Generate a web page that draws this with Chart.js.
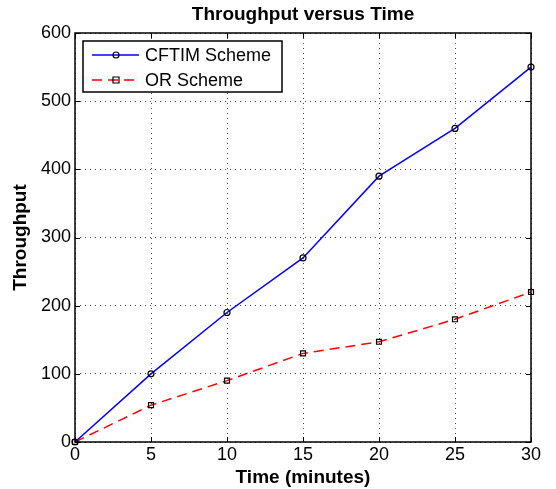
<!DOCTYPE html>
<html>
<head>
<meta charset="utf-8">
<script src="https://cdn.jsdelivr.net/npm/chart.js@4.4.1/dist/chart.umd.min.js"></script>
<style>
  html, body { margin: 0; padding: 0; background: #fff; }
  #wrap { width: 556px; height: 489px; }
</style>
</head>
<body>
<div id="wrap"><canvas id="tpChart" width="556" height="489"></canvas></div>
<script>
// Throughput versus Time — two schemes
const times   = [0, 5, 10, 15, 20, 25, 30];
const cftim   = [0, 100, 190, 270, 390, 460, 550];
const orVals  = [0, 54, 90, 130, 147, 180, 220];
const xTicks  = [0, 5, 10, 15, 20, 25, 30];
const yTicks  = [0, 100, 200, 300, 400, 500, 600];
const chartTitle = 'Throughput versus Time';

const font = 'Helvetica, "Liberation Sans", Arial, sans-serif';

function toXY(xs, ys) {
  return xs.map((x, i) => ({ x: x, y: ys[i] }));
}

// box round the plot plus inward tick marks (matlab style)
const boxPlugin = {
  id: 'box',
  afterDraw(chart) {
    const { ctx, chartArea: a, scales } = chart;
    ctx.save();
    ctx.strokeStyle = '#000';
    ctx.lineWidth = 1.5;
    ctx.setLineDash([]);
    ctx.strokeRect(a.left, a.top, a.right - a.left, a.bottom - a.top);
    const len = 5;
    ctx.lineWidth = 1;
    ctx.beginPath();
    xTicks.forEach(v => {
      const px = Math.round(scales.x.getPixelForValue(v)) + 0.5;
      ctx.moveTo(px, a.bottom); ctx.lineTo(px, a.bottom - len);
      ctx.moveTo(px, a.top); ctx.lineTo(px, a.top + len);
    });
    yTicks.forEach(v => {
      const py = Math.round(scales.y.getPixelForValue(v)) + 0.5;
      ctx.moveTo(a.left, py); ctx.lineTo(a.left + len, py);
      ctx.moveTo(a.right, py); ctx.lineTo(a.right - len, py);
    });
    ctx.stroke();
    // title centred over the axes
    ctx.fillStyle = '#000';
    ctx.font = 'bold 19px ' + font;
    ctx.textAlign = 'center';
    ctx.textBaseline = 'middle';
    ctx.fillText(chartTitle, (a.left + a.right) / 2, 15);
    ctx.restore();
  }
};

// legend drawn inside the axes, top-left
const innerLegend = {
  id: 'innerLegend',
  afterDraw(chart) {
    const { ctx, chartArea: a } = chart;
    const x0 = a.left + 8, y0 = a.top + 8, w = 199, h = 51;
    ctx.save();
    ctx.fillStyle = '#fff';
    ctx.fillRect(x0, y0, w, h);
    ctx.strokeStyle = '#000';
    ctx.lineWidth = 1.5;
    ctx.strokeRect(x0, y0, w, h);
    ctx.font = '18px ' + font;
    ctx.textBaseline = 'middle';
    chart.data.datasets.forEach((ds, i) => {
      const cy = y0 + 14 + i * 25;
      ctx.strokeStyle = ds.borderColor;
      ctx.lineWidth = 1.5;
      ctx.setLineDash(ds.borderDash || []);
      ctx.beginPath();
      ctx.moveTo(x0 + 9, cy); ctx.lineTo(x0 + 56, cy);
      ctx.stroke();
      ctx.setLineDash([]);
      ctx.strokeStyle = '#000';
      ctx.lineWidth = 1.2;
      ctx.beginPath();
      if (ds.pointStyle === 'rect') {
        ctx.rect(x0 + 30, cy - 3, 6, 6);
      } else {
        ctx.arc(x0 + 33, cy, 3, 0, Math.PI * 2);
      }
      ctx.stroke();
      ctx.fillStyle = '#000';
      ctx.fillText(ds.label, x0 + 62, cy + 1);
    });
    ctx.restore();
  }
};

new Chart(document.getElementById('tpChart').getContext('2d'), {
  type: 'line',
  data: {
    datasets: [{
      label: 'CFTIM Scheme',
      data: toXY(times, cftim),
      borderColor: '#0000ff',
      borderWidth: 1.5,
      pointStyle: 'circle',
      pointRadius: 3,
      pointBorderColor: '#000',
      pointBackgroundColor: 'rgba(0,0,0,0)',
      pointBorderWidth: 1.2,
      tension: 0
    }, {
      label: 'OR Scheme',
      data: toXY(times, orVals),
      borderColor: '#ff0000',
      borderWidth: 1.5,
      borderDash: [10, 6],
      pointStyle: 'rect',
      pointRadius: 3.5,
      pointBorderColor: '#000',
      pointBackgroundColor: 'rgba(0,0,0,0)',
      pointBorderWidth: 1.2,
      tension: 0
    }]
  },
  options: {
    responsive: false,
    animation: false,
    clip: false,
    layout: { padding: { left: 0, right: 25, top: 33, bottom: 0 } },
    plugins: {
      legend: { display: false },
      tooltip: { enabled: false },
      title: { display: false }
    },
    scales: {
      x: {
        type: 'linear',
        min: 0, max: 30,
        afterBuildTicks: s => { s.ticks = xTicks.map(v => ({ value: v })); },
        afterFit: s => { s.height = 47; },
        border: { display: false, dash: [1, 4] },
        grid: { color: '#444', lineWidth: 1, tickLength: 0, drawTicks: false },
        ticks: { color: '#000', font: { family: font, size: 18 }, padding: 2, maxRotation: 0 },
        title: {
          display: true, text: 'Time (minutes)', color: '#000',
          font: { family: font, size: 19, weight: 'bold' }, padding: { top: 0, bottom: 0 }
        }
      },
      y: {
        type: 'linear',
        min: 0, max: 600,
        afterBuildTicks: s => { s.ticks = yTicks.map(v => ({ value: v })); },
        afterFit: s => { s.width = 75; },
        border: { display: false, dash: [1, 4] },
        grid: { color: '#444', lineWidth: 1, tickLength: 0, drawTicks: false },
        ticks: { color: '#000', font: { family: font, size: 18 }, padding: 4 },
        title: {
          display: true, text: 'Throughput', color: '#000',
          font: { family: font, size: 19, weight: 'bold' }, padding: { top: 9, bottom: 0 }
        }
      }
    }
  },
  plugins: [boxPlugin, innerLegend]
});
</script>
</body>
</html>
